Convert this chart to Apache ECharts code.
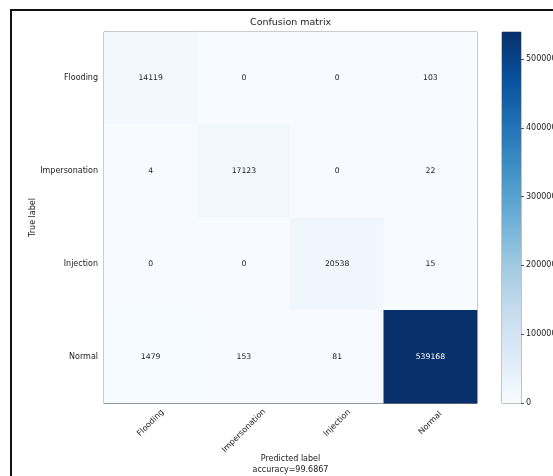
<!DOCTYPE html>
<html>
<head>
<meta charset="utf-8">
<script src="https://cdn.jsdelivr.net/npm/echarts@6/dist/echarts.min.js"></script>
<style>
  html, body { margin: 0; padding: 0; background: #fff; }
  #chart { width: 553px; height: 476px; }
</style>
</head>
<body>
<div id="chart"></div>
<script>
// confusion matrix values, rows = true label, cols = predicted label
const classes = ["Flooding", "Impersonation", "Injection", "Normal"];
const flooding = [14119, 0, 0, 103];
const impersonation = [4, 17123, 0, 22];
const injection = [0, 0, 20538, 15];
const normal = [1479, 153, 81, 539168];
const accuracy = "99.6867";
const colorbarStep = 100000;
// matplotlib "Blues"
const blues = ["#f7fbff", "#deebf7", "#c6dbef", "#9ecae1", "#6baed6", "#4292c6", "#2171b5", "#08519c", "#08306b"];

const rows = [flooding, impersonation, injection, normal];
const maxVal = Math.max(...rows.flat());
const font = "DejaVu Sans";

var chart = echarts.init(document.getElementById("chart"));

const cells = [];
rows.forEach((row, i) => {
  row.forEach((v, j) => {
    cells.push({
      value: [j, i, v],
      label: { color: v > maxVal / 2 ? "#ffffff" : "#222222" },
    });
  });
});

var option = {
  backgroundColor: "#ffffff",
  animation: false,
  textStyle: { fontFamily: font },
  title: {
    text: "Confusion matrix",
    left: 250,
    top: 18,
    padding: 0,
    textStyle: { fontFamily: font, fontSize: 9.5, fontWeight: "normal", color: "#222" },
  },
  graphic: [
    {
      type: "rect",
      shape: { x: 11, y: 10, width: 620, height: 520 },
      style: { fill: null, stroke: "#111", lineWidth: 2 },
      silent: true,
    },
  ],
  grid: [
    { left: 104, top: 32, width: 373, height: 371, outerBoundsMode: "none", containLabel: false, show: true, borderColor: "#777", borderWidth: 1 },
    { left: 502, top: 32, width: 19, height: 371, outerBoundsMode: "none", containLabel: false, show: true, borderColor: "#888", borderWidth: 1 },
  ],
  xAxis: [
    {
      type: "category",
      gridIndex: 0,
      data: classes,
      name: "Predicted label\naccuracy=" + accuracy,
      nameLocation: "middle",
      nameMoveOverlap: false,
      nameGap: 50,
      nameTextStyle: { fontFamily: font, fontSize: 8, color: "#222", lineHeight: 11, verticalAlign: "top" },
      axisLine: { lineStyle: { color: "#777" } },
      axisTick: { alignWithLabel: true, length: 4, lineStyle: { color: "#555" } },
      splitLine: { show: false },
      axisLabel: {
        interval: 0,
        rotate: 45,
        align: "center",
        verticalAlign: "middle",
        margin: 20,
        fontFamily: font,
        fontSize: 8,
        color: "#222",
        formatter: (v) => (v === "Impersonation" ? "{imp|" + v + "}" : v),
        rich: {
          imp: { fontFamily: font, fontSize: 8, color: "#222", padding: [11, 11, 0, 0] },
        },
      },
    },
    {
      type: "category",
      gridIndex: 1,
      data: ["cb"],
      show: false,
    },
  ],
  yAxis: [
    {
      type: "category",
      gridIndex: 0,
      data: classes,
      inverse: true,
      name: "True label",
      nameLocation: "middle",
      nameMoveOverlap: false,
      nameGap: 71,
      nameTextStyle: { fontFamily: font, fontSize: 8, color: "#222", verticalAlign: "middle" },
      axisLine: { lineStyle: { color: "#777" } },
      axisTick: { alignWithLabel: true, length: 4, lineStyle: { color: "#555" } },
      splitLine: { show: false },
      axisLabel: { fontFamily: font, fontSize: 8, color: "#222", margin: 6 },
    },
    {
      type: "value",
      gridIndex: 1,
      position: "right",
      min: 0,
      max: maxVal,
      interval: colorbarStep,
      axisLine: { show: false },
      axisTick: { show: true, length: 3, lineStyle: { color: "#555" } },
      splitLine: { show: false },
      axisLabel: {
        fontFamily: font, fontSize: 8, color: "#222", margin: 5, showMaxLabel: false,
        formatter: (v) => String(v),
      },
    },
  ],
  visualMap: {
    show: false,
    type: "continuous",
    seriesIndex: 0,
    min: 0,
    max: maxVal,
    inRange: { color: blues },
  },
  series: [
    {
      type: "heatmap",
      xAxisIndex: 0,
      yAxisIndex: 0,
      data: cells,
      label: { show: true, fontFamily: font, fontSize: 7.7, formatter: (p) => p.value[2] },
      emphasis: { disabled: true },
    },
    {
      type: "bar",
      xAxisIndex: 1,
      yAxisIndex: 1,
      data: [maxVal],
      barWidth: "100%",
      silent: true,
      itemStyle: {
        color: new echarts.graphic.LinearGradient(
          0, 0, 0, 1,
          blues.slice().reverse().map((c, k) => ({ offset: k / (blues.length - 1), color: c }))
        ),
      },
    },
  ],
};

option && chart.setOption(option);
</script>
</body>
</html>
